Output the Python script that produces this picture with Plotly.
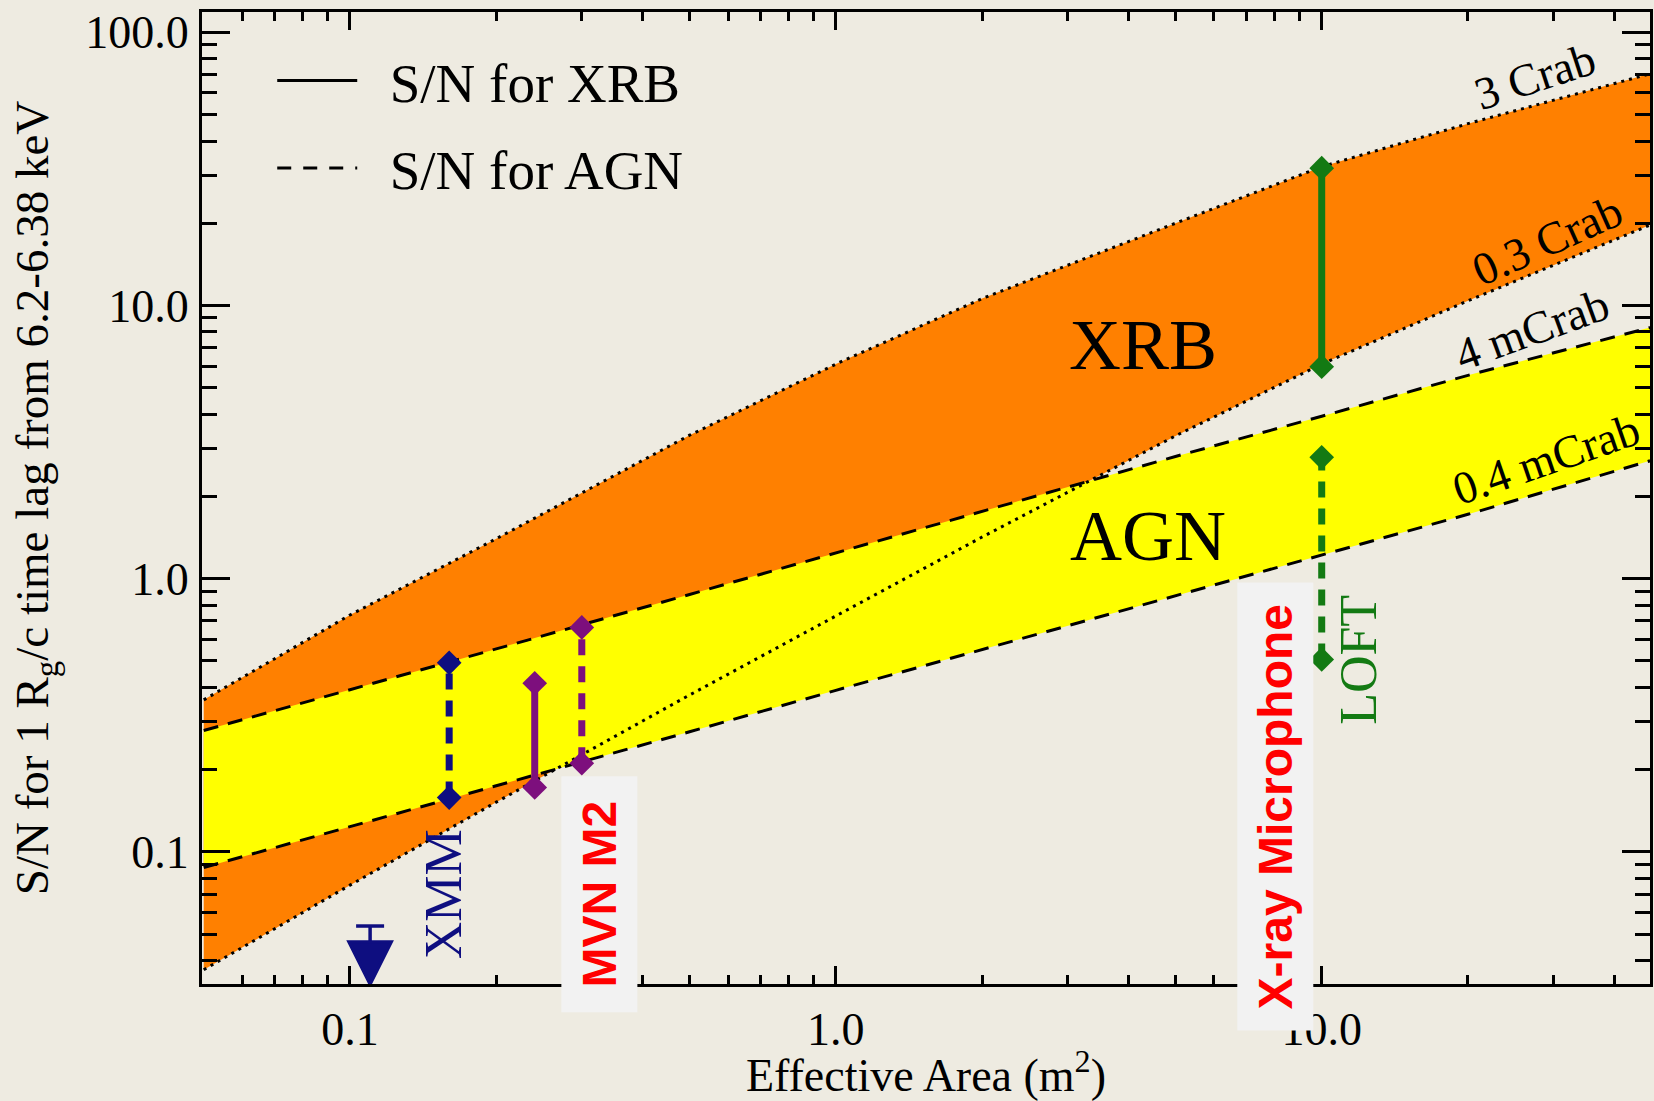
import math
import plotly.graph_objects as go

# ---------------- data ----------------
AREA = [0.05, 0.1, 0.2, 0.5, 1.0, 2.0, 5.0, 10.0, 20.0, 47.4]
XRB_3CRAB = [0.36, 0.736, 1.40, 3.35, 6.1, 10.6, 20.0, 32.2, 46.3, 70.5]
XRB_03CRAB = [0.037, 0.0755, 0.152, 0.375, 0.73, 1.42, 3.33, 6.1, 10.4, 19.7]
AGN_4MCRAB = [0.278, 0.391, 0.553, 0.875, 1.24, 1.76, 2.80, 3.93, 5.55, 8.3]
AGN_04MCRAB = [0.0876, 0.1236, 0.174, 0.275, 0.39, 0.55, 0.87, 1.22, 1.72, 2.70]

XMM_AREA = 0.16
XMM_AGN = [0.158, 0.492]
XMM_LIMIT_AREA = 0.11
XMM_LIMIT_SN = 0.0535
MVN_XRB_AREA = 0.24
MVN_XRB = [0.172, 0.414]
MVN_AGN_AREA = 0.30
MVN_AGN = [0.211, 0.663]
LOFT_AREA = 10.0
LOFT_XRB = [5.97, 31.8]
LOFT_AGN = [0.506, 2.78]

X_RANGE_LOG = [-1.3046, 1.6757]
Y_RANGE_LOG = [-1.4839, 2.0743]
X_TICKS = [0.1, 1, 10]
X_TICKTEXT = ["0.1", "1.0", "10.0"]
X_MINOR = [0.06, 0.07, 0.08, 0.09, 0.2, 0.3, 0.4, 0.5, 0.6, 0.7, 0.8, 0.9,
           2, 3, 4, 5, 6, 7, 8, 9, 20, 30, 40]
Y_TICKS = [0.1, 1, 10, 100]
Y_TICKTEXT = ["0.1", "1.0", "10.0", "100.0"]
Y_MINOR = [0.04, 0.05, 0.06, 0.07, 0.08, 0.09, 0.2, 0.3, 0.4, 0.5, 0.6, 0.7,
           0.8, 0.9, 2, 3, 4, 5, 6, 7, 8, 9, 20, 30, 40, 50, 60, 70, 80, 90]

# ---------------- styles ----------------
BG = "#EEEBE1"
ORANGE = "#FF8000"
YELLOW = "#FFFF00"
NAVY = "#0E0E80"
PURPLE = "#7D0F7D"
GREEN = "#137A13"
SERIF = "Liberation Serif"
SANS = "Liberation Sans"
DOT = "3px,5px"
DASH = "15px,10px"
BAR_DASH = "16px,11px"

fig = go.Figure()

# bands
fig.add_trace(go.Scatter(x=AREA, y=XRB_03CRAB, mode="lines", line=dict(width=0),
                         showlegend=False, hoverinfo="skip"))
fig.add_trace(go.Scatter(x=AREA, y=XRB_3CRAB, mode="lines", line=dict(width=0),
                         fill="tonexty", fillcolor=ORANGE, showlegend=False, hoverinfo="skip"))
fig.add_trace(go.Scatter(x=AREA, y=AGN_04MCRAB, mode="lines", line=dict(width=0),
                         showlegend=False, hoverinfo="skip"))
fig.add_trace(go.Scatter(x=AREA, y=AGN_4MCRAB, mode="lines", line=dict(width=0),
                         fill="tonexty", fillcolor=YELLOW, showlegend=False, hoverinfo="skip"))

# boundary curves
for ys in (XRB_3CRAB, XRB_03CRAB):
    fig.add_trace(go.Scatter(x=AREA, y=ys, mode="lines",
                             line=dict(color="black", width=3, dash=DOT),
                             showlegend=False))
for ys in (AGN_4MCRAB, AGN_04MCRAB):
    fig.add_trace(go.Scatter(x=AREA, y=ys, mode="lines",
                             line=dict(color="black", width=3, dash=DASH),
                             showlegend=False))

# mission bars
def bar(xv, yv, color, dash):
    fig.add_trace(go.Scatter(x=[xv, xv], y=yv, mode="lines+markers",
                             line=dict(color=color, width=7, dash=dash),
                             marker=dict(symbol="diamond", size=19, color=color, opacity=1),
                             showlegend=False, cliponaxis=False))

bar(XMM_AREA, XMM_AGN, NAVY, BAR_DASH)
bar(MVN_XRB_AREA, MVN_XRB, PURPLE, "solid")
bar(MVN_AGN_AREA, MVN_AGN, PURPLE, BAR_DASH)
bar(LOFT_AREA, LOFT_XRB, GREEN, "solid")
bar(LOFT_AREA, LOFT_AGN, GREEN, BAR_DASH)

# XMM upper limit (XRB)
fig.add_trace(go.Scatter(x=[XMM_LIMIT_AREA, XMM_LIMIT_AREA],
                         y=[XMM_LIMIT_SN, 10 ** Y_RANGE_LOG[0]],
                         mode="lines+markers",
                         line=dict(color=NAVY, width=3.5),
                         marker=dict(symbol=["line-ew", "arrow-down"], size=[20, 42],
                                     color=NAVY, opacity=1,
                                     line=dict(color=NAVY, width=3.5)),
                         showlegend=False, cliponaxis=False))

# legend entries
fig.add_trace(go.Scatter(x=[None], y=[None], mode="lines", name="\u00a0\u00a0S/N for XRB",
                         line=dict(color="black", width=3), legendgroup="a"))
fig.add_trace(go.Scatter(x=[None], y=[None], mode="lines", name="\u00a0\u00a0S/N for AGN",
                         line=dict(color="black", width=3, dash="14px,12px"), legendgroup="b"))

L = math.log10
ann = []
def text(x, y, s, size, color="black", family=SERIF, angle=0, **kw):
    ann.append(dict(x=L(x), y=L(y), xref="x", yref="y", text=s, showarrow=False,
                    textangle=angle, font=dict(family=family, size=size, color=color), **kw))

text(4.28, 7.16, "XRB", 72)
text(4.38, 1.435, "AGN", 72)
text(27.5, 69.0, "3 Crab", 46, angle=-18)
text(29.1, 17.3, "0.3 Crab", 46, angle=-24)
text(27.1, 8.2, "4 mCrab", 46, angle=-20)
text(28.9, 2.74, "0.4 mCrab", 46, angle=-19)
text(0.156, 0.0698, "XMM", 52, color=NAVY, angle=-90)
text(11.9, 0.506, "LOFT", 52, color=GREEN, angle=-90)
text(0.326, 0.0698, "<b>\u00a0MVN M2\u00a0</b>", 48, color="#FF0000", family=SANS, angle=-90,
     bgcolor="#F2F2F2", borderpad=11)
text(8.01, 0.147, "<b>\u2009X-ray Microphone\u2009</b>", 48, color="#FF0000", family=SANS,
     angle=-90, bgcolor="#F2F2F2", borderpad=11)

axis_common = dict(type="log", showline=True, linecolor="black", linewidth=3,
                   mirror="ticks", ticks="inside", tickwidth=3, tickcolor="black",
                   showgrid=False, zeroline=False, automargin=False,
                   tickfont=dict(family=SERIF, size=46, color="black"))

fig.update_layout(
    width=1654, height=1101,
    paper_bgcolor=BG, plot_bgcolor=BG,
    margin=dict(l=202, r=4, t=12, b=117),
    annotations=ann,
    showlegend=True,
    legend=dict(x=0.0485, y=0.973, xanchor="left", yanchor="top",
                bgcolor="rgba(0,0,0,0)", itemwidth=80, tracegroupgap=13,
                font=dict(family=SERIF, size=55, color="black")),
    xaxis=dict(**axis_common, range=X_RANGE_LOG, ticklen=18,
               tickvals=X_TICKS, ticktext=X_TICKTEXT, ticklabelstandoff=3,
               minor=dict(tickvals=X_MINOR, ticks="inside", ticklen=9, tickwidth=2.5,
                          tickcolor="black", showgrid=False),
               title=dict(text="Effective Area (m<sup>2</sup>)", standoff=12,
                          font=dict(family=SERIF, size=46, color="black"))),
    yaxis=dict(**axis_common, range=Y_RANGE_LOG, ticklen=28,
               tickvals=Y_TICKS, ticktext=Y_TICKTEXT, ticklabelstandoff=1,
               minor=dict(tickvals=Y_MINOR, ticks="inside", ticklen=15, tickwidth=2.5,
                          tickcolor="black", showgrid=False),
               title=dict(text="S/N for 1 R<sub>g</sub>/c time lag from 6.2-6.38 keV",
                          standoff=22, font=dict(family=SERIF, size=47, color="black"))),
)

fig.write_html("out.html",
               config={"displayModeBar": False},
               post_script="document.body.style.margin='0px';"
                           "document.body.style.background='" + BG + "';")
